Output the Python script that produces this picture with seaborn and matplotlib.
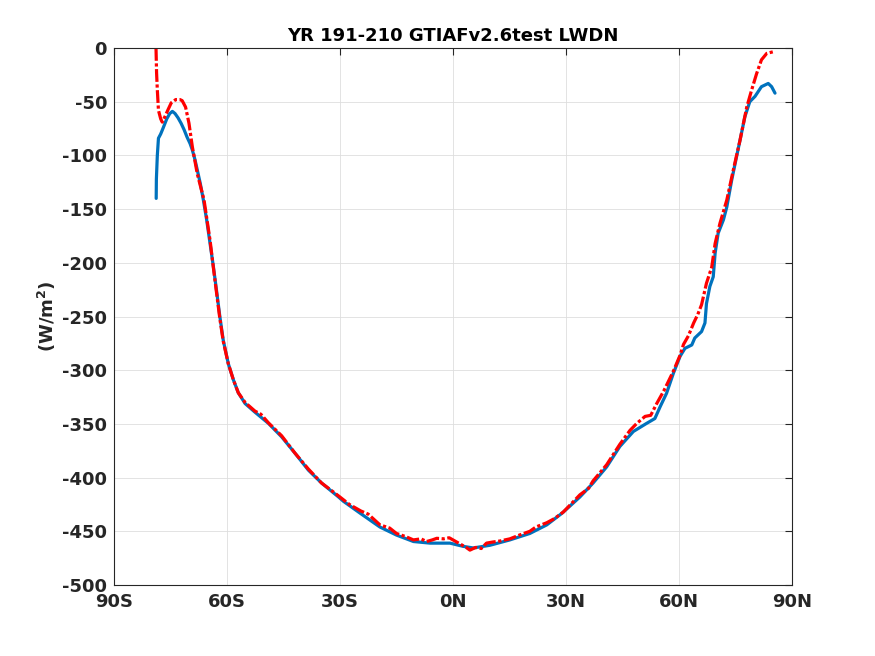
import matplotlib
matplotlib.use("Agg")
import matplotlib.pyplot as plt
import seaborn as sns
import pandas as pd

# ---- data ----
blue_lat = [-78.8, -78.75, -78.5, -78.2, -77.6, -76.9, -76.0, -75.2, -74.5, -73.8, -73.0, -72.2,
            -71.4, -70.6, -69.8, -69.2, -68.5, -67.8, -67.1, -66.3, -65.4, -64.5, -63.6, -62.7,
            -61.9, -61.0, -59.65, -58.3, -57.0, -55.2, -52.6, -49.0, -45.5, -42.0, -38.4, -34.9,
            -30.4, -29.1, -24.7, -19.4, -15.0, -10.5, -6.1, -0.8, 2.7, 5.4, 9.8, 15.1, 20.4,
            24.9, 29.0, 33.7, 37.2, 40.8, 44.3, 47.9, 51.4, 53.6, 55.0, 56.7, 58.5, 60.3, 61.6,
            63.4, 64.2, 66.0, 66.9, 67.3, 68.2, 69.1, 69.6, 70.4, 71.8, 72.7, 74.0, 75.3, 76.2,
            77.5, 78.8, 80.2, 81.9, 83.7, 84.6, 85.5]
blue_val = [-140, -122, -100, -84, -80, -74, -66, -61, -59, -61, -65, -70,
            -76, -83, -89, -95, -104, -115, -126, -141, -160, -182, -204, -228,
            -250, -272, -294, -309, -321, -331, -339, -349.5, -362, -377, -393, -405,
            -418, -422, -433, -446, -453.5, -459.5, -461, -461, -464, -465.5, -463, -458, -452,
            -444, -433, -418, -405, -390, -371, -357, -349.5, -345, -334, -321.5, -303, -287, -279.6,
            -276.5, -270, -264, -256, -238, -222, -213, -191, -172.5, -160, -148, -123, -101, -86,
            -64, -50, -45, -36, -33, -36, -42]

red_lat = [-78.85, -78.7, -78.5, -78.2, -77.6, -77.2, -76.5, -75.6, -74.8, -73.6, -72.5, -71.9,
           -71.0, -70.1, -69.2, -67.9, -66.1, -64.5, -63.6, -62.7, -61.9, -61.0, -59.65, -58.3,
           -57.0, -55.2, -52.6, -51.0, -49.0, -45.5, -42.0, -38.4, -34.9, -30.4, -27.5, -24.5,
           -22.5, -19.4, -16.8, -15.0, -12.5, -10.5, -8.5, -7.0, -5.5, -4.3, -2.5, -1.0, 0.5,
           2.0, 3.5, 4.5, 6.0, 7.5, 8.9, 10.5, 12.5, 15.1, 18.0, 20.4, 22.0, 24.9, 27.0, 29.3,
           33.7, 36.0, 37.2, 40.8, 44.3, 47.0, 48.8, 51.0, 52.5, 54.1, 56.0, 58.5, 60.3, 61.2,
           62.5, 63.9, 65.0, 66.0, 67.3, 68.7, 69.6, 70.0, 70.9, 72.7, 74.4, 76.2, 78.0, 79.3,
           80.6, 81.9, 83.3, 85.0]
red_val = [0, -23, -39, -58, -66, -69, -64, -57, -51, -48, -48, -49,
           -55, -70, -92, -117, -141.5, -179, -205, -230, -252, -273, -294, -309,
           -321, -330, -338, -341, -349, -361, -377, -392, -405, -417, -425, -431,
           -434, -444, -447, -452, -455, -458, -457, -459.5, -458, -456.5, -457, -456, -459,
           -462, -465, -467.5, -465, -466, -461, -460, -459, -457, -453, -450, -446, -442, -438, -432,
           -416, -410, -403, -388, -369, -356, -349.5, -343, -342, -331, -319, -301, -286, -276,
           -268, -256, -248, -239, -219, -204, -182, -176, -163, -141.5, -114, -86, -55, -39,
           -24, -11, -5, -3.5]

xticks = [-90, -60, -30, 0, 30, 60, 90]
xticklabels = ['90S', '60S', '30S', '0N', '30N', '60N', '90N']
yticks = [-500, -450, -400, -350, -300, -250, -200, -150, -100, -50, 0]
title = 'YR 191-210 GTIAFv2.6test LWDN'

sns.set_style('white')
plt.rcParams['font.family'] = ['DejaVu Sans']
plt.rcParams['font.weight'] = 'bold'
plt.rcParams['axes.unicode_minus'] = False

fig = plt.figure(figsize=(8.75, 6.56), dpi=100)
ax = fig.add_axes([0.1303, 0.1082, 0.7748, 0.8186])

dfb = pd.DataFrame({'lat': blue_lat, 'val': blue_val})
dfr = pd.DataFrame({'lat': red_lat, 'val': red_val})
sns.lineplot(data=dfb, x='lat', y='val', ax=ax, color='#0072BD', lw=2.3, sort=False,
             estimator=None)
sns.lineplot(data=dfr, x='lat', y='val', ax=ax, color='#FF0000', lw=2.3, sort=False,
             estimator=None, linestyle=(0, (4, 0.8, 1, 0.8)))

ax.set_xlim(-90, 90)
ax.set_ylim(-500, 0)
ax.set_xticks(xticks)
ax.set_xticklabels(xticklabels)
ax.set_yticks(yticks)
ax.grid(True, color='#dedede', lw=0.6)
ax.set_axisbelow(True)
for s in ax.spines.values():
    s.set_visible(True)
    s.set_color('#262626')
    s.set_linewidth(0.8)
ax.tick_params(direction='in', length=5, width=0.8, color='#262626',
               top=True, right=True, labelsize=13, labelcolor='#262626')
ax.tick_params(axis='x', pad=6)
ax.tick_params(axis='y', pad=5)
for lbl in ax.get_xticklabels() + ax.get_yticklabels():
    lbl.set_fontweight('bold')
ax.set_xlabel('')
ax.set_ylabel('(W/m$^\\mathbf{2}$)', fontsize=13, fontweight='bold', color='#262626', labelpad=3)
ax.set_title(title, fontsize=13, fontweight='bold', pad=5, color='black')

fig.savefig('out.png', dpi=100)
